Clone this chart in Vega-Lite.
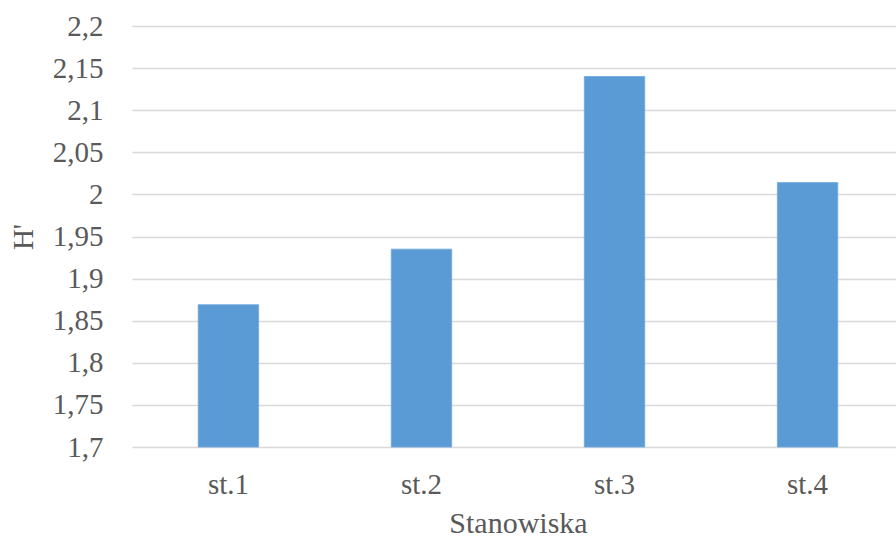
{
  "$schema": "https://vega.github.io/schema/vega-lite/v6.json",
  "autosize": "none",
  "padding": {"left": 132, "top": 26, "right": 0, "bottom": 95},
  "width": 772,
  "height": 421,
  "background": "white",
  "config": {
    "view": {"stroke": null},
    "font": "Liberation Serif",
    "axis": {
      "labelFont": "Liberation Serif",
      "titleFont": "Liberation Serif",
      "labelColor": "#595959",
      "titleColor": "#595959",
      "titleFontWeight": "normal"
    }
  },
  "data": {
    "values": [
      {"stanowisko": "st.1", "H": 1.869},
      {"stanowisko": "st.2", "H": 1.935},
      {"stanowisko": "st.3", "H": 2.14},
      {"stanowisko": "st.4", "H": 2.014}
    ]
  },
  "mark": {"type": "bar", "color": "#5B9BD5", "stroke": "#6FA8DC", "strokeWidth": 0.8},
  "encoding": {
    "x": {
      "field": "stanowisko",
      "type": "nominal",
      "sort": null,
      "scale": {"paddingInner": 0.687, "paddingOuter": 0.343},
      "axis": {
        "title": "Stanowiska",
        "labelAngle": 0,
        "labelFontSize": 29,
        "titleFontSize": 30,
        "labelPadding": 23,
        "titlePadding": 9,
        "domain": false,
        "ticks": false,
        "grid": false
      }
    },
    "y": {
      "field": "H",
      "type": "quantitative",
      "scale": {"domain": [1.7, 2.2], "zero": false, "nice": false},
      "axis": {
        "title": "H'",
        "values": [1.7, 1.75, 1.8, 1.85, 1.9, 1.95, 2.0, 2.05, 2.1, 2.15, 2.2],
        "labelExpr": "replace(format(datum.value, '.2~f'), '.', ',')",
        "labelFontSize": 29,
        "titleFontSize": 29,
        "labelPadding": 29,
        "titlePadding": 14,
        "domain": false,
        "ticks": false,
        "grid": true,
        "gridColor": "#D9D9D9",
        "gridWidth": 1.5
      }
    },
    "y2": {"datum": 1.7}
  }
}
